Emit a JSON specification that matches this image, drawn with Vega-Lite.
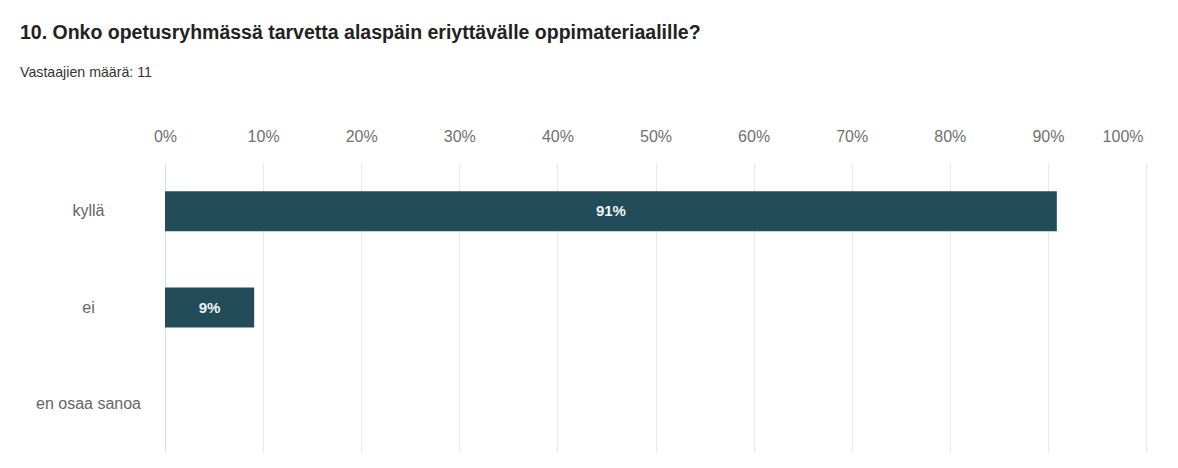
{
  "$schema": "https://vega.github.io/schema/vega-lite/v6.json",
  "width": 981,
  "height": 289,
  "autosize": {"type": "none"},
  "padding": {"left": 165, "top": 163, "right": 32, "bottom": 16},
  "background": "white",
  "title": {
    "text": "10. Onko opetusryhmässä tarvetta alaspäin eriyttävälle oppimateriaalille?",
    "subtitle": "Vastaajien määrä: 11",
    "anchor": "start",
    "frame": "group",
    "dx": -145,
    "offset": 47,
    "font": "Liberation Sans",
    "fontSize": 19.5,
    "fontWeight": "bold",
    "color": "#222222",
    "subtitleFont": "Liberation Sans",
    "subtitleFontSize": 14.2,
    "subtitleColor": "#333333",
    "subtitlePadding": 22
  },
  "data": {
    "values": [
      {"vaihtoehto": "kyllä", "osuus": 0.9091},
      {"vaihtoehto": "ei", "osuus": 0.0909},
      {"vaihtoehto": "en osaa sanoa", "osuus": 0}
    ]
  },
  "config": {"view": {"stroke": null}},
  "layer": [
    {
      "mark": {"type": "bar", "color": "#234c5a"},
      "encoding": {
        "y": {
          "field": "vaihtoehto",
          "type": "nominal",
          "sort": null,
          "scale": {"paddingInner": 0.585, "paddingOuter": 0.2925},
          "axis": {
            "title": null,
            "domain": false,
            "ticks": false,
            "tickSize": 0,
            "labelPadding": 77,
            "labelAlign": "center",
            "labelFont": "Liberation Sans",
            "labelFontSize": 16,
            "labelColor": "#666666"
          }
        },
        "x": {
          "field": "osuus",
          "type": "quantitative",
          "scale": {"domain": [0, 1], "nice": false},
          "axis": {
            "orient": "top",
            "title": null,
            "format": ".0%",
            "values": [0, 0.1, 0.2, 0.3, 0.4, 0.5, 0.6, 0.7, 0.8, 0.9, 1],
            "domain": false,
            "ticks": false,
            "tickSize": 0,
            "labelPadding": 19,
            "labelFont": "Liberation Sans",
            "labelFontSize": 16,
            "labelColor": "#707070",
            "labelAlign": {"condition": {"test": "datum.value >= 1", "value": "right"}, "value": "center"},
            "labelOffset": {"condition": {"test": "datum.value >= 1", "value": -3}, "value": 0},
            "grid": true,
            "gridColor": {"condition": {"test": "datum.value === 0", "value": "#d9ddef"}, "value": "#e9e9e9"},
            "gridWidth": 1
          }
        }
      }
    },
    {
      "transform": [{"filter": "datum.osuus > 0"}],
      "mark": {"type": "text", "color": "#f2f2f2", "font": "Liberation Sans", "fontSize": 15, "fontWeight": "bold", "align": "center", "baseline": "middle"},
      "encoding": {
        "y": {"field": "vaihtoehto", "type": "nominal", "sort": null},
        "x": {
          "field": "osuus",
          "type": "quantitative",
          "scale": {"domain": [0, 2], "nice": false},
          "axis": null
        },
        "text": {"field": "osuus", "type": "quantitative", "format": ".0%"}
      }
    }
  ],
  "resolve": {"scale": {"x": "independent"}}
}
